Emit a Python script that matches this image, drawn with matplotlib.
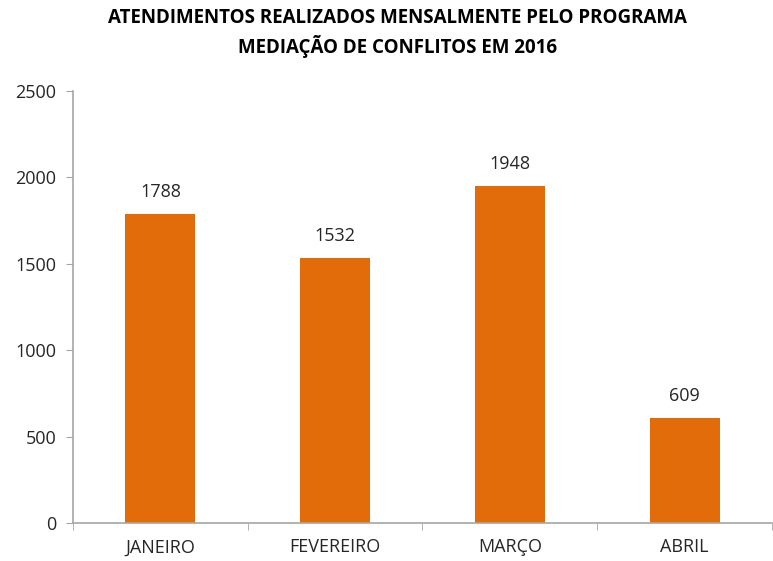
import matplotlib.pyplot as plt
import numpy as np

meses = ['JANEIRO', 'FEVEREIRO', 'MARÇO', 'ABRIL']
atendimentos = [1788, 1532, 1948, 609]
yticks = [0, 500, 1000, 1500, 2000, 2500]

plt.rcParams['font.family'] = ['Open Sans', 'DejaVu Sans']

fig = plt.figure(figsize=(7.73, 5.61), dpi=100)
ax = fig.add_axes([0.0944, 0.0677, 0.9043, 0.7701])

x = np.arange(len(meses))
bars = ax.bar(x, atendimentos, width=0.4, color='#e36c0a')
for b, v in zip(bars, atendimentos):
    ax.text(b.get_x() + b.get_width() / 2, v + 75, str(v),
            ha='center', va='bottom', fontsize=13, color='#262626')

ax.set_xlim(-0.5, len(meses) - 0.5)
ax.set_ylim(0, 2500)
ax.set_yticks(yticks)
ax.set_xticks(x)
ax.set_xticklabels(meses)
ax.set_xticks(np.arange(len(meses) + 1) - 0.5, minor=True)
ax.tick_params(axis='x', which='major', length=0, pad=11, labelsize=13, colors='#262626')
ax.tick_params(axis='x', which='minor', length=5, color='#a6a6a6')
ax.tick_params(axis='y', length=5, color='#a6a6a6', labelsize=13, labelcolor='#262626', pad=7)

for s in ['top', 'right']:
    ax.spines[s].set_visible(False)
for s in ['left', 'bottom']:
    ax.spines[s].set_color('#a6a6a6')
    ax.spines[s].set_linewidth(1.2)

fig.text(0.514, 0.985, 'ATENDIMENTOS REALIZADOS MENSALMENTE PELO PROGRAMA\nMEDIAÇÃO DE CONFLITOS EM 2016',
         ha='center', va='top', fontsize=13.5, fontweight='bold', color='black', linespacing=1.35)

fig.savefig('out.png', dpi=100)
